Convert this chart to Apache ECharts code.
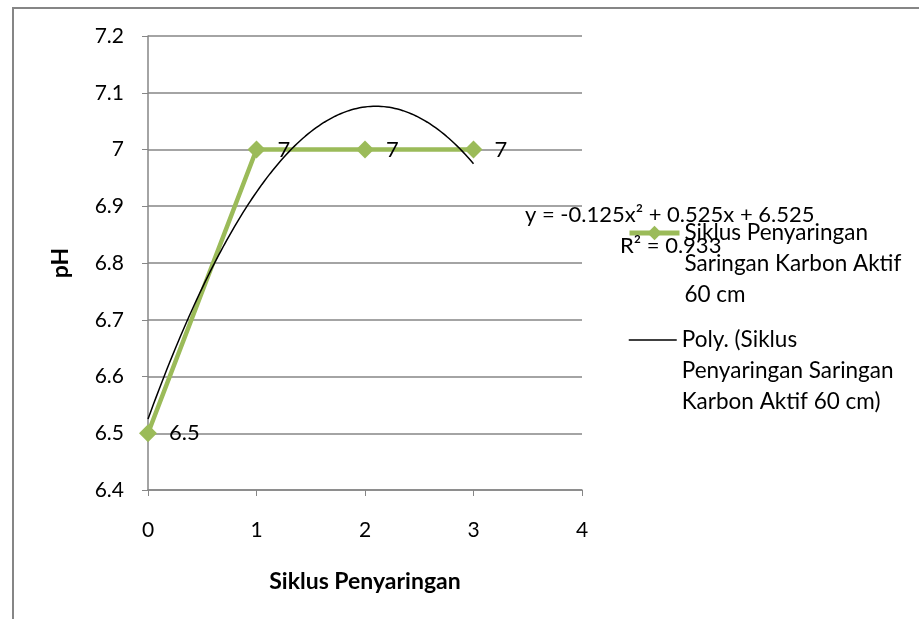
<!DOCTYPE html>
<html>
<head>
<meta charset="utf-8">
<script src="https://cdn.jsdelivr.net/npm/echarts@6/dist/echarts.min.js"></script>
<style>
  html, body { margin: 0; padding: 0; background: #fff; }
  #chart { width: 919px; height: 619px; }
</style>
</head>
<body>
<div id="chart"></div>
<script>
// Filtration cycles and measured pH
const cycles = [0, 1, 2, 3];
const phValues = [6.5, 7, 7, 7];

// Second-order polynomial trendline: y = a*x^2 + b*x + c
const trendCoef = [-0.125, 0.525, 6.525];
const trendR2 = 0.933;

const seriesName = 'Siklus Penyaringan Saringan Karbon Aktif 60 cm';
const trendName = 'Poly. (Siklus Penyaringan Saringan Karbon Aktif 60 cm)';
const seriesLegendLines = ['Siklus Penyaringan', 'Saringan Karbon Aktif', '60 cm'];
const trendLegendLines = ['Poly. (Siklus', 'Penyaringan Saringan', 'Karbon Aktif 60 cm)'];
const xTitle = 'Siklus Penyaringan';
const yTitle = 'pH';

const FONT = 'Lato';
const GRAY = '#868686';
const GREEN = '#9BBB59';

// Trendline sampled over the range of the data
const trendData = [];
const xStart = cycles[0], xEnd = cycles[cycles.length - 1];
for (let i = 0; i <= 120; i++) {
  const x = xStart + (xEnd - xStart) * i / 120;
  trendData.push([x, trendCoef[0] * x * x + trendCoef[1] * x + trendCoef[2]]);
}

const fmt = v => (v < 0 ? '-' : '') + Math.abs(v).toFixed(3);
const eqText = 'y = ' + fmt(trendCoef[0]) + 'x\u00B2 + ' + fmt(trendCoef[1]) + 'x + ' + fmt(trendCoef[2]);
const r2Text = 'R\u00B2 = ' + trendR2.toFixed(3);

// Legend text is centred on its icon, so two blank lines in front keep
// the first line level with the icon.
const legendLabel = lines => '\n\n' + lines.join('\n');

const chart = echarts.init(document.getElementById('chart'), null, { renderer: 'canvas' });

const legendText = { fontFamily: FONT, fontSize: 22.5, color: '#000', lineHeight: 31 };

chart.setOption({
  animation: false,
  backgroundColor: '#fff',
  grid: { left: 148, right: 337, top: 36, bottom: 129 },
  xAxis: {
    type: 'value', min: 0, max: 4, interval: 1,
    name: xTitle, nameLocation: 'middle', nameGap: 80,
    nameTextStyle: { fontFamily: FONT, fontSize: 23, fontWeight: 'bold', color: '#000' },
    axisLine: { lineStyle: { color: GRAY, width: 1.5 } },
    axisTick: { show: true, inside: false, length: 6, lineStyle: { color: GRAY } },
    axisLabel: { fontFamily: FONT, fontSize: 21, color: '#000', margin: 30 },
    splitLine: { show: false }
  },
  yAxis: {
    type: 'value', min: 6.4, max: 7.2, interval: 0.1,
    name: yTitle, nameLocation: 'middle', nameGap: 76, nameRotate: 90,
    nameTextStyle: { fontFamily: FONT, fontSize: 23, fontWeight: 'bold', color: '#000' },
    axisLine: { show: true, lineStyle: { color: GRAY, width: 1.5 } },
    axisTick: { show: true, inside: false, length: 6, lineStyle: { color: GRAY } },
    axisLabel: { fontFamily: FONT, fontSize: 21, color: '#000', margin: 24 },
    splitLine: { show: true, lineStyle: { color: GRAY, width: 1.5 } }
  },
  legend: [
    {
      data: [{ name: seriesName }], orient: 'vertical', left: 627, top: 155.5, padding: 0,
      itemWidth: 50, itemHeight: 18,
      lineStyle: { width: 5 },
      formatter: () => legendLabel(seriesLegendLines),
      textStyle: legendText
    },
    {
      data: [{ name: trendName, itemStyle: { opacity: 0 } }],
      orient: 'vertical', left: 628, top: 262.5, padding: 0,
      itemWidth: 48, itemHeight: 18,
      lineStyle: { width: 1.5 },
      formatter: () => legendLabel(trendLegendLines),
      textStyle: legendText
    }
  ],
  series: [
    {
      name: seriesName, type: 'line',
      data: cycles.map((x, i) => [x, phValues[i]]),
      symbol: 'diamond', symbolSize: 18,
      lineStyle: { color: GREEN, width: 4.5 },
      itemStyle: { color: GREEN },
      label: {
        show: true, position: 'right', distance: 12,
        fontFamily: FONT, fontSize: 22, color: '#000',
        formatter: p => String(p.value[1])
      },
      z: 2
    },
    {
      name: trendName, type: 'line', data: trendData,
      symbol: 'none', smooth: false,
      lineStyle: { color: '#000', width: 1.5 },
      itemStyle: { color: '#000' },
      z: 3
    }
  ],
  graphic: [
    {
      type: 'rect', silent: true,
      shape: { x: 13, y: 8, width: 1000, height: 1000 },
      style: { fill: 'none', stroke: GRAY, lineWidth: 2 }
    },
    {
      type: 'text', left: 525, top: 204, z: 10,
      style: { text: eqText, fontFamily: FONT, fontSize: 22, fill: '#000' }
    },
    {
      type: 'text', left: 620, top: 235, z: 10,
      style: { text: r2Text, fontFamily: FONT, fontSize: 22, fill: '#000' }
    }
  ]
});
</script>
</body>
</html>
